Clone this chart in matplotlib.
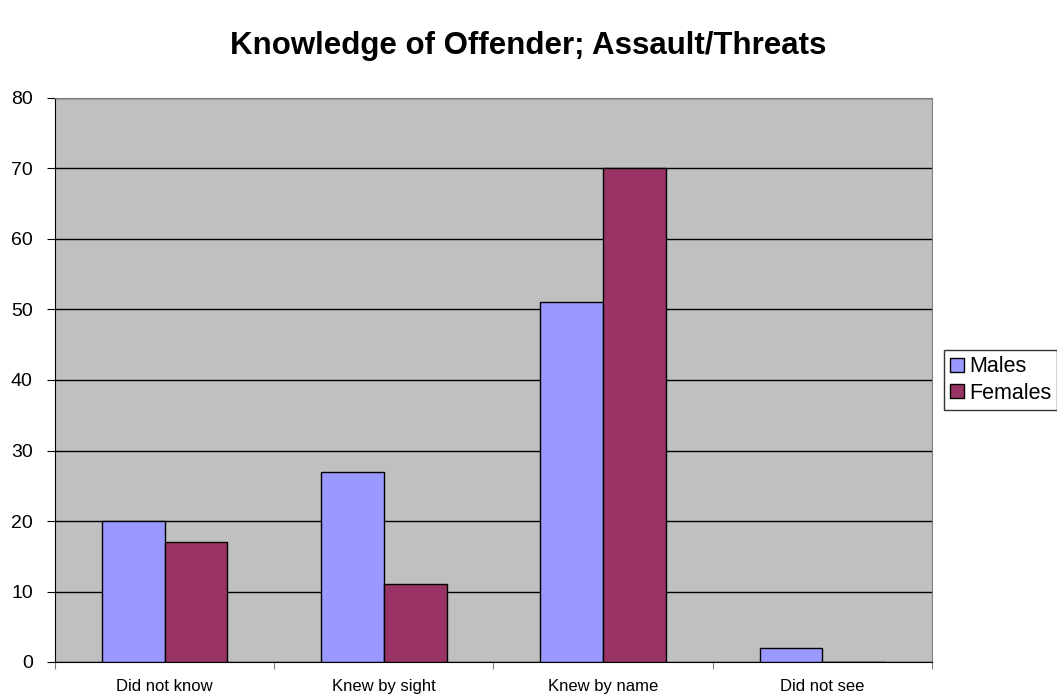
import numpy as np
from matplotlib import pyplot as plt

# categories and counts
categories = ["Did not know", "Knew by sight", "Knew by name", "Did not see"]
males = [20, 27, 51, 2]
females = [17, 11, 70, 0]

plt.rcParams['font.family'] = ['Liberation Sans', 'DejaVu Sans']

fig = plt.figure(figsize=(10.57, 6.98), dpi=100)
ax = fig.add_axes([55/1057, 1-662/698, (932-55)/1057, (662-98)/698])
ax.set_facecolor("#c0c0c0")

x = np.arange(len(categories)) + 0.5
w = 1/3.5
ax.bar(x - w/2, males, w, color="#9999ff", edgecolor="black", linewidth=1, label="Males", zorder=3)
ax.bar(x + w/2, females, w, color="#993366", edgecolor="black", linewidth=1, label="Females", zorder=3)

ax.set_xlim(0, 4)
ax.set_ylim(0, 80)
ax.set_yticks(range(0, 81, 10))
ax.yaxis.grid(True, color="black", linewidth=1, zorder=1)
ax.set_axisbelow(True)

# category labels sit between the boundary ticks
ax.set_xticks(range(0, 5))
ax.set_xticklabels([])
ax.set_xticks(x, minor=True)
ax.set_xticklabels(categories, minor=True, fontsize=12)
ax.tick_params(axis='x', which='minor', length=0, pad=12)
ax.tick_params(axis='x', which='major', length=5, color="gray")
ax.tick_params(axis='y', labelsize=14, length=6, pad=10)

for s in ["top", "right"]:
    ax.spines[s].set_color("gray")
for s in ["left", "bottom"]:
    ax.spines[s].set_color("black")

fig.suptitle("Knowledge of Offender; Assault/Threats", fontsize=22.5, fontweight="bold", y=0.955)

leg = fig.legend(loc="center left", bbox_to_anchor=(944/1057, 1-380/698), fontsize=15.5,
                 frameon=True, fancybox=False, edgecolor="black", handlelength=0.65,
                 handleheight=0.65, handletextpad=0.2, borderpad=0.3, labelspacing=0.25,
                 borderaxespad=0)
leg.get_frame().set_linewidth(1)

fig.savefig("out.png", dpi=100)
